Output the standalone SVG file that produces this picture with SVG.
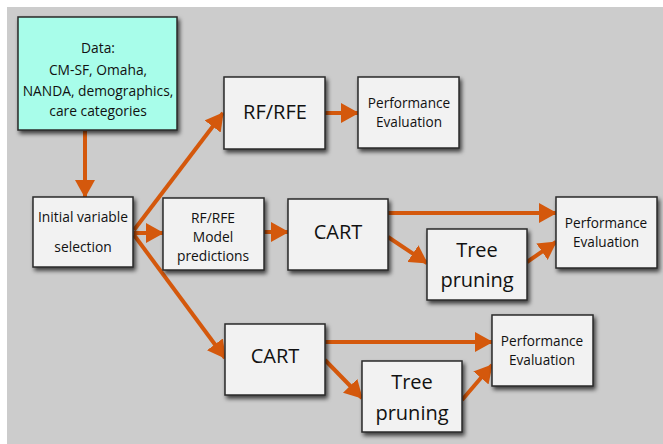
<svg xmlns="http://www.w3.org/2000/svg" width="663" height="444" viewBox="0 0 663 444">
<defs>
<style>
.box{fill:#f2f2f2;stroke:#2a2a2a;stroke-width:1.5;filter:url(#sh)}
.data{fill:#a8fdea}
.t{font-family:"Open Sans","Liberation Sans",sans-serif;fill:#111;text-anchor:middle}
.s{font-size:13.8px}
.m{font-size:15px}
.l{font-size:20px}
.p{font-size:13.6px}
.c{stroke:#d4580c;stroke-width:4;fill:none;marker-end:url(#ah)}
</style>
<filter id="sh" x="-20%" y="-20%" width="150%" height="150%">
<feDropShadow dx="2" dy="3" stdDeviation="2" flood-color="#000" flood-opacity="0.7"/>
</filter>
<marker id="ah" markerUnits="userSpaceOnUse" markerWidth="18" markerHeight="20" refX="17" refY="10" orient="auto" viewBox="0 0 18 20">
<path d="M0,0 L18,10 L0,20 z" fill="#d4580c"/>
</marker>
</defs>
<rect x="0" y="0" width="663" height="444" fill="#ffffff"/>
<rect x="7" y="7" width="656" height="437" fill="#cccccc"/>
<g id="connectors">
<line class="c" x1="85" y1="131" x2="85" y2="197"/>
<line class="c" x1="134" y1="230" x2="223" y2="113"/>
<line class="c" x1="134" y1="233" x2="163" y2="233"/>
<line class="c" x1="134" y1="235" x2="225" y2="358"/>
<line class="c" x1="325" y1="113" x2="358" y2="113"/>
<line class="c" x1="264" y1="232" x2="288" y2="232"/>
<line class="c" x1="388" y1="213" x2="556" y2="213"/>
<line class="c" x1="388" y1="237" x2="427" y2="263"/>
<line class="c" x1="527" y1="262" x2="556" y2="242"/>
<line class="c" x1="325" y1="342" x2="492" y2="342"/>
<line class="c" x1="325" y1="360" x2="362" y2="398"/>
<line class="c" x1="462" y1="400" x2="492" y2="365"/>
</g>
<g id="data">
<rect class="box data" x="18" y="17" width="159" height="113"/>
<text class="t s" x="98" y="53">Data:</text>
<text class="t s" x="98" y="75">CM-SF, Omaha,</text>
<text class="t s" x="98" y="96">NANDA, demographics,</text>
<text class="t s" x="98" y="116">care categories</text>
</g>
<g id="initial">
<rect class="box" x="33" y="197" width="100" height="70"/>
<text class="t s" x="83" y="222">Initial variable</text>
<text class="t s" x="83" y="252">selection</text>
</g>
<g id="rfrfe-model">
<rect class="box" x="163" y="198" width="101" height="72"/>
<text class="t s" x="213" y="223">RF/RFE</text>
<text class="t s" x="213" y="242">Model</text>
<text class="t s" x="213" y="261">predictions</text>
</g>
<g id="rfrfe-top">
<rect class="box" x="224" y="77" width="101" height="72"/>
<text class="t l" x="275" y="119">RF/RFE</text>
</g>
<g id="perf-top">
<rect class="box" x="358" y="77" width="101" height="71"/>
<text class="t p" x="409" y="108">Performance</text>
<text class="t p" x="409" y="127">Evaluation</text>
</g>
<g id="cart-mid">
<rect class="box" x="288" y="199" width="100" height="71"/>
<text class="t l" x="338" y="239">CART</text>
</g>
<g id="tree-mid">
<rect class="box" x="427" y="229" width="100" height="71"/>
<text class="t l" x="477" y="257">Tree</text>
<text class="t l" x="477" y="287">pruning</text>
</g>
<g id="perf-mid">
<rect class="box" x="556" y="197" width="101" height="71"/>
<text class="t p" x="606" y="228">Performance</text>
<text class="t p" x="606" y="247">Evaluation</text>
</g>
<g id="cart-bottom">
<rect class="box" x="225" y="324" width="100" height="71"/>
<text class="t l" x="275" y="363">CART</text>
</g>
<g id="tree-bottom">
<rect class="box" x="362" y="361" width="100" height="71"/>
<text class="t l" x="412" y="389">Tree</text>
<text class="t l" x="412" y="420">pruning</text>
</g>
<g id="perf-bottom">
<rect class="box" x="492" y="315" width="101" height="71"/>
<text class="t p" x="542" y="346">Performance</text>
<text class="t p" x="542" y="365">Evaluation</text>
</g>
</svg>
